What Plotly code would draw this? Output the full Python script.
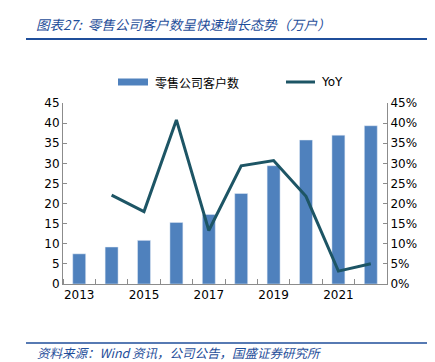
import plotly.graph_objects as go

years = [2013, 2014, 2015, 2016, 2017, 2018, 2019, 2020, 2021, 2022]
customers = [7.5, 9.2, 10.85, 15.3, 17.3, 22.5, 29.4, 35.8, 37.0, 39.35]
yoy_years = [2014, 2015, 2016, 2017, 2018, 2019, 2020, 2021, 2022]
yoy = [0.221, 0.180, 0.408, 0.133, 0.294, 0.307, 0.218, 0.032, 0.0505]
xtick_labels = ["2013", "2015", "2017", "2019", "2021"]
xtick_vals = [2013, 2015, 2017, 2019, 2021]

bar_color = "#4F81BD"
line_color = "#1D5565"
title_blue = "#1F4E9A"
font_main = "DejaVu Sans"
font_cjk = "Noto Sans CJK SC"

fig = go.Figure()
fig.add_trace(go.Bar(x=years, y=customers, marker_color=bar_color, width=0.4,
                     name="零售公司客户数", yaxis="y"))
fig.add_trace(go.Scatter(x=yoy_years, y=yoy, mode="lines", line=dict(color=line_color, width=3),
                         name="YoY", yaxis="y2"))

W, H = 435, 362
L, R, T, B = 55, 56, 95, 86
pw, ph = W - L - R, H - T - B

def px(x):
    return (x - L) / pw

def py(y):
    return (H - B - y) / ph

fig.update_layout(
    width=W, height=H,
    margin=dict(l=L, r=R, t=T, b=B),
    paper_bgcolor="white", plot_bgcolor="white",
    showlegend=False,
    font=dict(family=font_main, size=12, color="#000000"),
    xaxis=dict(range=[2012.5, 2022.5], tickvals=xtick_vals, ticktext=xtick_labels,
               ticks="", showgrid=False, zeroline=False, showline=True,
               linecolor="#8C8C8C", linewidth=1,
               tickfont=dict(family=font_main, size=12, color="#000"),
               minor=dict(tickmode="linear", tick0=2012.5, dtick=1, ticks="inside",
                          ticklen=5, tickcolor="#8C8C8C", showgrid=False)),
    yaxis=dict(range=[0, 45], dtick=5, ticks="inside", ticklen=4, tickcolor="#8C8C8C",
               showgrid=False, zeroline=False, showline=True, linecolor="#8C8C8C",
               tickfont=dict(family=font_main, size=12, color="#000")),
    yaxis2=dict(range=[0, 0.45], dtick=0.05, tickformat=".0%", overlaying="y", side="right",
                ticks="inside", ticklen=4, tickcolor="#8C8C8C",
                showgrid=False, zeroline=False, showline=True, linecolor="#8C8C8C",
                tickfont=dict(family=font_main, size=12, color="#000")),
    bargap=0.6,
)

shapes = [
    dict(type="line", xref="paper", yref="paper", x0=px(18), x1=px(423), y0=py(31), y1=py(31),
         line=dict(color=title_blue, width=2)),
    dict(type="line", xref="paper", yref="paper", x0=px(18), x1=px(423), y0=py(335), y1=py(335),
         line=dict(color=title_blue, width=1.5)),
    dict(type="rect", xref="paper", yref="paper", x0=px(110), x1=px(140), y0=py(77.5), y1=py(70.5),
         line=dict(width=0), fillcolor=bar_color),
    dict(type="line", xref="paper", yref="paper", x0=px(278), x1=px(307), y0=py(74), y1=py(74),
         line=dict(color=line_color, width=3)),
]
annotations = [
    dict(text="<i>图表27:  零售公司客户数呈快速增长态势（万户）</i>", xref="paper", yref="paper",
         x=px(26), y=py(16), xanchor="left", yanchor="middle", showarrow=False,
         font=dict(family=font_cjk, size=13.5, color=title_blue)),
    dict(text="<i>资料来源：Wind 资讯，公司公告，国盛证券研究所</i>", xref="paper", yref="paper",
         x=px(27), y=py(344), xanchor="left", yanchor="middle", showarrow=False,
         font=dict(family=font_cjk, size=12.5, color=title_blue)),
    dict(text="零售公司客户数", xref="paper", yref="paper", x=px(145), y=py(74),
         xanchor="left", yanchor="middle", showarrow=False,
         font=dict(family=font_cjk, size=12, color="#000")),
    dict(text="YoY", xref="paper", yref="paper", x=px(311), y=py(74),
         xanchor="left", yanchor="middle", showarrow=False,
         font=dict(family=font_main, size=12, color="#000")),
]
fig.update_layout(shapes=shapes, annotations=annotations)

fig.write_html("out.html")
